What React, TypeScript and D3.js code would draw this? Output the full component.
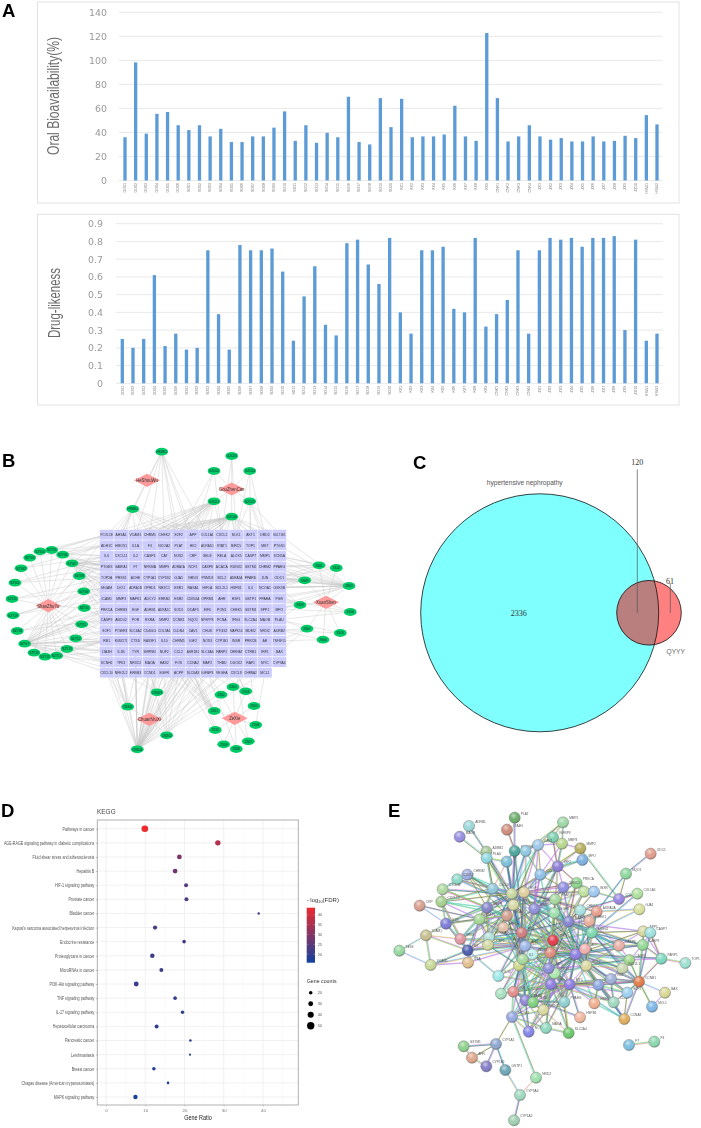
import React, { useEffect, useRef } from 'react';
import * as d3 from 'd3';

// Panel A
const compounds = [
  'GD01', 'GD02', 'GD03', 'GD04', 'GD05', 'GD06',
  'SD01', 'SD02', 'SD03', 'SD04', 'SD05', 'SD06', 'SD07', 'SD08', 'SD09', 'SD10',
  'SD11', 'SD12', 'SD13', 'SD14', 'SD15', 'SD16', 'SD17', 'SD18', 'SD19', 'SD20',
  'KX1', 'KX2', 'KX3', 'KX4', 'KX5', 'KX6', 'KX7', 'KX8', 'KX9',
  'CNK1', 'CNK2', 'CNK3', 'CNK4',
  'ZX1', 'ZX2', 'ZX3', 'ZX4', 'ZX5', 'ZX6', 'ZX7', 'ZX8', 'ZX9', 'ZX10',
  'HSW1', 'HSW2',
];
const oralBio = [
  36, 98.3, 39, 55.5, 57, 46, 42, 46, 36.7, 43, 32, 32, 36.7, 36.7, 44, 57.5, 33, 46, 31.4, 39.7, 36, 69.7,
  32, 30, 68.6, 44.4, 68, 36, 36.7, 36.7, 38.3, 62.2, 36.7, 33, 122.8, 68.6, 32.5, 36.7, 46, 36.7, 34, 35.3,
  32.5, 32.5, 36.7, 32.5, 33, 37.2, 35.3, 54.4, 46.7,
];
const drugLike = [
  0.25, 0.2, 0.25, 0.61, 0.21, 0.28, 0.19, 0.2, 0.75, 0.39, 0.19, 0.78, 0.75, 0.75, 0.76, 0.63, 0.24, 0.49, 0.66, 0.33, 0.27, 0.79,
  0.81, 0.67, 0.56, 0.82, 0.4, 0.28, 0.75, 0.75, 0.77, 0.42, 0.4, 0.82, 0.32, 0.39, 0.47, 0.75, 0.28, 0.75, 0.82, 0.81,
  0.82, 0.77, 0.82, 0.82, 0.83, 0.3, 0.81, 0.24, 0.28,
];
const oralTicks = [0, 20, 40, 60, 80, 100, 120, 140];
const drugTicks = [0, 0.1, 0.2, 0.3, 0.4, 0.5, 0.6, 0.7, 0.8, 0.9];

// Panel B
const geneRows = [
  'PCOLCE AHSA1 VCAM1 CHRM1 CHEK2 E2F2 APP COL1A1 CXCL2 ELK1 AKT1 DRD2 SULT1E1',
  'ADH1C HMOX1 IL1A F3 NCOA2 PLAT HK2 ADRA1D STAT1 BIRC5 TOP1 MET PTGS1',
  'IL6 CXCL11 IL2 CASP3 CAT NOS2 CRP SELE RELA ALOX5 CASP7 MMP1 SCN5A',
  'PTGES GABRA1 F7 NFKBIA MMP9 ADRA1A NCF1 CASP8 ACACA RUNX2 GSTM2 CHRM2 PPARG',
  'TOP2A PRSS1 ACHE CYP1A1 CYP1B2 GJA1 NR1I3 PSMD3 BCL2 ADRA2A PPARD JUN ODC1',
  'MGAM DIO1 ADRA1B OPRD1 NR3C1 ESR1 RASA1 HIF1A BCL2L1 HSPB1 IL4 NCOA1 GSK3B',
  'ICAM1 MMP3 MAPK1 ADCY2 ERBB2 ESR2 CDKN1A OPRM1 AHR HSF1 GSTP1 PPARA PGR',
  'PRKCA CHRM3 EGF ADRB1 ADRA2C SOD1 DCAF5 EIF6 PON1 CHEK1 GSTM1 SPP1 MPO',
  'CASP9 ABCG2 POR RXRA MMP2 CCNB1 NQO1 NPEPPS PCNA IFNG SLC2A4 MAOB PLAU',
  'E2F1 PTGER3 SLC6A2 CD40LG COL3A1 CLDN4 CAV1 CHUK PTGS2 MAPK14 MDM2 NR1I2 ADRB2',
  'RB1 RUNX1T1 CTSD RASSF1 IL10 CHRM5 IGF2 NOS3 CYP1B1 INSR PRKCB AR TNFSF15',
  'LTA4H IL1B TYR SERPINE1 NUF2 CCL2 AKR1B1 SLC6A4 PARP1 CHRNA7 CTRB1 IRF1 BAX',
  'KCNH2 TP63 NR3C2 MAOA HAS2 FOS CCNA2 MAP2 THBD DUOX2 RAF1 MYC CYP3A4',
  'CXCL10 NFE2L2 ERBB3 CCND1 EGFR ACPP SLC6A3 IGFBP3 VEGFA CXCL8 CHRNA2 MCL1',
].map(r => r.split(' '));

const herbs: [string, number, number][] = [
  ['HeShouWu', 147, 480.3], ['GouZhenCan', 231.7, 489], ['ShanZhuYu', 48.3, 605.7],
  ['XuanShen', 326, 602.3], ['ChuanNiuXi', 149.3, 719.3], ['ZeXie', 234.7, 718.3],
];
const herbMembers: Record<string, string> = {
  HeShouWu: 'HSW01 HSW02',
  GouZhenCan: 'GZC01 GZC02 GZC03 GZC04 GZC05 GZC06',
  ShanZhuYu: 'SZY01 SZY02 SZY03 SZY04 SZY05 SZY06 SZY07 SZY08 SZY09 SZY10 SZY11 SZY12 SZY13 SZY14 SZY15 SZY16 SZY17 SZY18 SZY19 SZY20',
  XuanShen: 'XS01 XS02 XS03 XS04 XS05 XS06 XS07 XS08 XS09',
  ChuanNiuXi: 'CNX01 CNX02 CNX03 CNX04',
  ZeXie: 'ZX01 ZX02 ZX03 ZX04 ZX05 ZX06 ZX07 ZX08 ZX09 ZX10',
};
const compoundNodes: [string, number, number][] = [
  ['HSW01', 161.7, 451.7], ['HSW02', 132.7, 509],
  ['GZC01', 214, 501.3], ['GZC02', 214, 471], ['GZC03', 231.7, 456], ['GZC04', 249.7, 471], ['GZC05', 249.7, 501.3], ['GZC06', 231.7, 516.7],
  ['SZY01', 15, 582.7], ['SZY02', 21, 568.3], ['SZY03', 29.7, 557.7], ['SZY04', 40, 551.3], ['SZY05', 51.7, 550], ['SZY06', 62.7, 554.7],
  ['SZY07', 72, 563.3], ['SZY08', 79.3, 576], ['SZY09', 83.7, 591.3], ['SZY10', 84.3, 608], ['SZY11', 81.7, 624.3], ['SZY12', 75.7, 638.3],
  ['SZY13', 67, 649], ['SZY14', 56.7, 655.7], ['SZY15', 45, 656.7], ['SZY16', 34, 652.7], ['SZY17', 24.7, 643.7], ['SZY18', 17.3, 631],
  ['SZY19', 13, 615.3], ['SZY20', 12, 599],
  ['XS01', 319, 565.3], ['XS02', 336.3, 568], ['XS03', 349, 586], ['XS04', 350.3, 612], ['XS05', 340.3, 633], ['XS06', 323, 639.7],
  ['XS07', 307, 628.7], ['XS08', 300, 605], ['XS09', 304.7, 580.3],
  ['CNX01', 127.7, 706.7], ['CNX02', 166.7, 735.3], ['CNX03', 157, 692.3], ['CNX04', 137.3, 749.3],
  ['ZX01', 214.3, 711], ['ZX02', 221, 694.7], ['ZX03', 233, 687], ['ZX04', 245.7, 691.3], ['ZX05', 254, 706], ['ZX06', 255.7, 725],
  ['ZX07', 248.3, 741.3], ['ZX08', 236.3, 749], ['ZX09', 223.7, 744.3], ['ZX10', 215.3, 730],
];
const compoundTargets: Record<string, string> = {
  HSW01: 'APP E2F2 CHEK2 CHRM1 VCAM1 AHSA1 COL1A1 HK2 NOS2',
  HSW02: 'PCOLCE AHSA1 VCAM1 CHRM1 CHEK2 E2F2 APP ADH1C IL6 NCOA2 COL1A1 HMOX1',
  GZC01: 'PCOLCE AHSA1 VCAM1 CHRM1 CHEK2 E2F2 APP COL1A1 CXCL2 ADH1C IL6 PTGES NCOA2 PLAT HK2 CXCL11 IL2 CASP3 CAT',
  GZC02: 'APP CXCL2 E2F2',
  GZC03: 'ELK1 CXCL2',
  GZC04: 'AKT1 ELK1 DRD2',
  GZC05: 'AKT1 DRD2 SULT1E1 ELK1 MET',
  GZC06: 'PCOLCE AHSA1 VCAM1 CHRM1 CHEK2 E2F2 APP COL1A1 CXCL2 ELK1 AKT1 DRD2 SULT1E1 ADH1C HMOX1 IL1A F3 NCOA2 PLAT HK2 ADRA1D STAT1 BIRC5 TOP1 MET PTGS1 CAT NOS2 CRP',
  SZY01: 'PTGES IL6 TOP2A', SZY02: 'IL6 ADH1C', SZY03: 'ADH1C PCOLCE', SZY04: 'PCOLCE IL6 PTGES',
  SZY05: 'PCOLCE ADH1C', SZY06: 'PCOLCE ADH1C IL6 PTGES',
  SZY07: 'PCOLCE IL6 PTGES TOP2A MGAM ICAM1 PRKCA CASP9 E2F1 NOS2 CAT MMP9 ESR1 ADRA1A NR3C1 CHRM3 ADRB1 SOD1 EGF F7 ACHE',
  SZY08: 'TOP2A MGAM PTGES ICAM1 IL6',
  SZY09: 'MGAM ICAM1 TOP2A PRKCA',
  SZY10: 'ICAM1 PRKCA CASP9 MGAM',
  SZY11: 'CASP9 E2F1 PRKCA RB1',
  SZY12: 'E2F1 RB1 CASP9 LTA4H',
  SZY13: 'LTA4H RB1 KCNH2',
  SZY14: 'KCNH2 LTA4H RB1', SZY15: 'E2F1 RB1', SZY16: 'RB1 CASP9', 
  SZY17: 'PCOLCE IL6 PTGES TOP2A MGAM ICAM1 PRKCA CASP9 E2F1 RB1 LTA4H KCNH2 CXCL10 ESR1 PTGS2 CASP3 BCL2 RELA MAPK1 TP63 NFE2L2 IL1B RUNX1T1 CTSD',
  SZY18: 'CASP9 PRKCA', SZY19: 'ICAM1 MGAM', SZY20: 'MGAM TOP2A',
  XS01: 'PPARG SCN5A ODC1 GSK3B CHRM2',
  XS02: 'PPARG ODC1 SCN5A',
  XS03: 'SCN5A PPARG ODC1 GSK3B PGR MPO PTGS1 SULT1E1 GSTM2 JUN NCOA1 PPARA SPP1 CHRM2 MMP1 PPARD IL4 RUNX2 HSPB1 ADRA2A',
  XS04: 'PGR MPO PLAU', XS05: 'ADRB2 PLAU', XS06: 'TNFSF15 ADRB2', XS07: 'PLAU ADRB2 TNFSF15 BAX',
  XS08: 'GSK3B PGR MPO PPARA SPP1 NCOA1 PLAU',
  XS09: 'ODC1 GSK3B PPARG JUN PPARD NCOA1',
  CNX01: 'CXCL10 NFE2L2 KCNH2 ERBB3 TP63 LTA4H CCND1',
  CNX02: 'EGFR ACPP CCND1 SLC6A3 IGFBP3 VEGFA',
  CNX03: 'ERBB3 CCND1 EGFR ACPP NFE2L2',
  CNX04: 'CXCL10 NFE2L2 ERBB3 CCND1 EGFR ACPP SLC6A3 IGFBP3 VEGFA CXCL8 CHRNA2 MCL1 KCNH2 TP63 NR3C2 MAOA HAS2 FOS CCNA2 MAP2 THBD DUOX2 RB1 CTSD IL10 IGF2 NOS3 CYP1B1 COL3A1 CHUK PTGS2 ESR1 BCL2 MMP9 AKT1 TYR NUF2 AKR1B1 CCL2 SLC6A4',
  ZX01: 'EGFR ACPP SLC6A3 FOS CCNA2 HAS2 CCL2 IL10 NUF2',
  ZX02: 'SLC6A3 IGFBP3',
  ZX03: 'IGFBP3 VEGFA',
  ZX04: 'VEGFA CXCL8',
  ZX05: 'CXCL8 CHRNA2',
  ZX06: 'MCL1', ZX07: 'CXCL8', ZX08: 'IGFBP3', ZX09: 'SLC6A3', ZX10: 'ACPP SLC6A3',
};

// Panel C
const vennAreas = { only: 2336, shared: 120, drug: 61 };

// Panel D
const pathways = [
  'Pathways in cancer', 'AGE-RAGE signaling pathway in diabetic complications', 'Fluid shear stress and atherosclerosis',
  'Hepatitis B', 'HIF-1 signaling pathway', 'Prostate cancer', 'Bladder cancer',
  "Kaposi's sarcoma associated herpesvirus infection", 'Endocrine resistance', 'Proteoglycans in cancer', 'MicroRNAs in cancer',
  'PI3K-Akt signaling pathway', 'TNF signaling pathway', 'IL-17 signaling pathway', 'Hepatocellular carcinoma', 'Pancreatic cancer',
  'Leishmaniasis', 'Breast cancer', 'Chagas disease (American trypanosomiasis)', 'MAPK signaling pathway',
];
const geneRatio = [9.9, 28.5, 18.7, 17.6, 20.4, 20.5, 38.9, 12.5, 19.9, 11.8, 14.1, 7.7, 17.6, 19.5, 12.9, 21.5, 21.4, 12.2, 15.8, 7.5];
const logFdr = [43.7, 36, 29, 27.5, 24, 23.5, 22.5, 22.5, 22, 21.5, 21, 20.5, 20, 19.5, 19, 18.5, 18, 17.5, 17, 16.5];
const geneCounts = [44, 34, 29, 29, 23, 23, 11, 25, 20, 27, 23, 30, 20, 19, 23, 12, 8, 19, 12, 26];
const fdrTicks = [20, 25, 30, 35, 40];
const countTicks = [20, 30, 40, 50];

// Panel E, node layout in string-db picture units
const stringNodes: [string, number, number][] = [
  ['ADRB1', 267, 78], ['MAOB', 239, 110], ['PLAT', 404, 53], ['LTA4H', 381, 89], ['MMP1', 549, 67], ['IGFBP3', 519, 112],
  ['MMP3', 546, 131], ['MMP2', 601, 145], ['MPO', 607, 180], ['ADRB2', 319, 155], ['PLAU', 320, 174], ['SERPINE1', 404, 153],
  ['THBD', 437, 153], ['CAV1', 474, 135], ['F3', 380, 185], ['IGF2', 533, 199], ['CCL2', 481, 224], ['PRKCA', 590, 249],
  ['MET', 612, 275], ['NR3C1', 550, 262], ['NQO1', 738, 221], ['ODC1', 812, 161], ['COL3A1', 717, 297], ['COL1A1', 772, 281],
  ['GJA1', 778, 328], ['CHRM2', 262, 224], ['CXCL2', 232, 238], ['CXCL11', 188, 268], ['CXCL10', 184, 305], ['CRP', 119, 317],
  ['IL1B', 198, 371], ['ICAM1', 138, 406], ['IFNG', 241, 417], ['IL6', 263, 451], ['IL1A', 264, 488], ['SELE', 58, 452],
  ['VCAM1', 152, 495], ['CXCL8', 338, 266], ['AKT1', 395, 281], ['EGF', 432, 277], ['MMP9', 321, 323], ['TP63', 400, 315],
  ['ESR1', 463, 327], ['PPARG', 525, 298], ['EGFR', 523, 339], ['STAT1', 298, 358], ['RELA', 381, 347], ['HIF1A', 370, 383],
  ['NFKBIA', 327, 412], ['DCAF5', 324, 435], ['FOS', 425, 398], ['MAPK1', 566, 365], ['TP53', 519, 421], ['CHEK2', 601, 331],
  ['ADRA2A', 650, 335], ['CHEK1', 628, 364], ['ERBB2', 635, 398], ['CASP8', 717, 437], ['SPP1', 790, 394], ['CASP7', 811, 398],
  ['CASP9', 788, 435], ['CASP3', 748, 480], ['BCL2L1', 727, 505], ['PARP1', 844, 476], ['TOP1', 916, 489], ['CCNB1', 777, 545],
  ['BAX', 855, 578], ['MCL1', 816, 620], ['CCNA2', 733, 657], ['CDK4', 701, 607], ['E2F1', 742, 578], ['CCND1', 655, 555],
  ['RB1', 693, 537], ['HSF1', 643, 610], ['HSPB1', 600, 652], ['MYC', 569, 553], ['JUN', 512, 553], ['PTGS2', 524, 520],
  ['CAT', 506, 505], ['BCL2', 619, 497], ['VEGFA', 587, 463], ['APP', 615, 447], ['MMP2', 511, 458], ['NOS3', 457, 463],
  ['AHR', 435, 438], ['IL4', 417, 496], ['IL2', 428, 478], ['IL10', 355, 528], ['CCL2', 363, 581], ['INS', 400, 575],
  ['PPARA', 436, 601], ['NOS2', 459, 607], ['PON1', 490, 630], ['PPARG', 553, 606], ['NCOA1', 396, 651], ['NOS2', 446, 695],
  ['MAOA', 498, 684], ['SLC2A4', 566, 699], ['CYP1A1', 348, 732], ['GSTM1', 251, 739], ['AHR', 276, 773], ['CYP1B1', 319, 799],
  ['GSTP1', 376, 810], ['NR1I2', 468, 833], ['CYP3A4', 420, 885], ['CYP1A2', 402, 961], ['F7', 747, 735], ['F3', 823, 725],
  ['INSR', 642, 275],
];
const stringColors = [
  '#a0d8d8', '#9a90e0', '#70b070', '#d09080', '#a0d8a8', '#80d0b0', '#b8d890', '#b8b060', '#80b0e0', '#a8c898', '#90d8e0', '#50a8a0',
  '#90c8e0', '#a0c8e8', '#80c0d8', '#9080d8', '#90c0e8', '#90d890', '#c0e0a0', '#9090e0', '#90d8a0', '#e0a090', '#9a88e0', '#b0e0a0',
  '#d8e0a0', '#a0b0e0', '#90d8c8', '#b0d8a0', '#a8d090', '#d8a090', '#8080d8', '#c8c090', '#e098a0', '#5060b0', '#e0c090', '#98d8a0',
  '#c8d898', '#90c8d8', '#c8d8a0', '#e0d0a0', '#8888c8', '#d8d8a8', '#9090d8', '#a8d8a0', '#a0e0b0', '#a8d898', '#d0a090', '#e0c0a8',
  '#b0e0d8', '#d0d8a0', '#d08080', '#8888d0', '#e04050', '#a8e0e0', '#e8a090', '#e8b0a0', '#80d8b0', '#e8b0a8', '#d8d8a0', '#a0e0e0',
  '#98d898', '#a0d890', '#c8d8b0', '#80d8c0', '#a0e0d0', '#e08050', '#d8d898', '#80b8e8', '#e0b060', '#a0d8c0', '#a0d0f0', '#90a8e0',
  '#a0b0d8', '#f0b090', '#f0b8a0', '#9080e0', '#9080e0', '#b0e8b0', '#9090d8', '#d8d8a0', '#9080e0', '#f0b0b0', '#e09080', '#c0f0f0',
  '#a0b8e8', '#d0d890', '#a8d8a0', '#a0e8e8', '#a8e0c0', '#e09090', '#9088d8', '#80d080', '#d8d8a0', '#90d0d0', '#98a8e0', '#8888e8',
  '#90d8c0', '#70c870', '#90a8d0', '#90d090', '#e0a890', '#8880c8', '#70a8b8', '#a0e0b0', '#a0d8c0', '#a0d0b0', '#80c0e0', '#90d8b0',
  '#a0c8f0',
];
// 1-based node ids, [node, neighbours]
const stringLinks: [number, number[]][] = [
  [1, [10]], [2, [11]], [3, [12]], [4, [12]], [5, [6, 7, 13, 14]], [6, [7, 14]], [7, [8, 14, 16, 17]], [8, [9, 16, 23]],
  [21, [22, 23, 55]], [23, [24, 109]], [24, [54, 57]], [25, [55, 57]], [30, [46, 31]], [32, [36, 37, 34, 31, 33]], [36, [37]],
  [37, [34, 35]], [28, [29, 27]], [29, [31, 33, 34]], [31, [33, 34]], [99, [100, 101, 102, 103, 95]], [101, [102, 100]],
  [103, [105]], [104, [105, 95]], [105, [106]], [107, [108]], [65, [64]], [64, [59, 60, 61, 62, 66]], [66, [67, 68, 62, 63, 61, 59, 60, 70, 71]],
  [67, [68]], [69, [70, 66, 71, 74]], [75, [76, 90]], [98, [97, 94, 93, 77]],
  [53, [39, 40, 42, 43, 44, 45, 47, 48, 50, 51, 52, 54, 55, 56, 57, 58, 62, 63, 66, 72, 73, 76, 77, 78, 79, 80, 81, 82, 83, 84, 85, 86, 87, 89, 90, 91, 92, 93, 94, 95, 97, 98, 33, 34, 41, 46, 49, 16, 17, 20, 18, 19, 38]],
  [81, [58, 59, 61, 62, 63, 64, 66, 69, 70, 71, 72, 73, 74, 76, 77, 78, 79, 80, 82, 83, 84, 85, 86, 87, 90, 91, 92, 93, 94, 95, 96, 57, 56, 55, 54, 52, 45, 44, 43, 42, 20]],
  [85, [33, 34, 35, 37, 39, 40, 41, 42, 43, 46, 47, 48, 49, 50, 51, 52, 83, 84, 86, 87, 88, 89, 90, 91, 95, 76, 77, 79, 17, 16, 12, 13, 15, 38]],
  [42, [10, 11, 12, 13, 14, 15, 17, 26, 27, 38, 39, 40, 41, 43, 44, 46, 47, 48, 49, 50, 51, 33, 34]],
  [76, [66, 69, 70, 71, 72, 73, 74, 77, 78, 79, 80, 83, 86, 87, 90, 91, 92, 93, 94, 95, 96, 97]],
  [77, [78, 79, 83, 86, 87, 88, 89, 90, 91, 92, 93, 94, 95, 96, 97, 72, 73, 70]],
  [39, [10, 11, 12, 13, 14, 15, 16, 17, 26, 27, 38, 40, 41, 43, 44, 45, 46, 47, 48, 49, 31, 28, 29]],
  [40, [14, 16, 17, 18, 19, 20, 43, 44, 45, 52, 54, 55, 57, 38, 41, 47]],
  [47, [26, 28, 29, 31, 33, 34, 41, 46, 48, 49, 50, 51]],
  [43, [14, 16, 17, 18, 19, 20, 44, 45, 52, 51, 48, 57, 58, 82]],
  [52, [18, 19, 20, 44, 45, 54, 55, 56, 57, 58, 59, 61, 80, 82, 109]],
  [17, [8, 9, 13, 14, 16, 20]], [16, [6, 9, 14, 20, 18]], [38, [10, 11, 15, 26, 27, 29, 41, 46]],
  [41, [26, 28, 29, 31, 33, 34, 46, 49, 50]], [46, [29, 31, 33, 34, 35, 49, 50]], [34, [33, 35, 49, 50, 88]],
  [83, [84, 82]], [84, [86]], [86, [87, 88, 89, 90, 39, 40, 42, 43, 47, 48, 50, 51, 78, 79, 91, 92]], [87, [90, 91, 92, 39, 42, 47, 48, 51]], [90, [95, 91, 89, 92, 93, 96]],
  [91, [95, 96, 92, 93, 97, 94]], [95, [96, 97, 93]], [72, [70, 71, 73, 74, 66, 69, 80]], [73, [66, 70, 71, 80, 63, 62]],
  [59, [60, 61]], [60, [61]], [61, [62]], [62, [63, 64]], [58, [56, 57, 59, 61, 62]], [12, [13, 15]], [13, [14]], [11, [15]], [109, [19, 18]],
  [79, [44, 45, 51, 52, 78, 80, 83, 84, 91, 92, 93, 94]], [80, [44, 45, 52, 54, 55, 56, 57, 58, 62, 63, 70, 71, 78, 83, 90, 94]],
  [83, [39, 40, 42, 43, 44, 45, 47, 51, 52, 78, 86, 87, 90, 91]], [57, [54, 55, 56, 59, 61, 62, 63, 66, 82]], [51, [40, 43, 44, 45, 48, 49, 50, 52, 84, 88]],
];
const linkColors = ['#2fd0e0', '#e060e0', '#c6d83c', '#3a3a3a', '#7d7de0', '#46c46a'];

const SANS = 'Liberation Sans, Arial, sans-serif';
const SERIF = '"Liberation Serif", serif';
type G = d3.Selection<SVGGElement, unknown, null, undefined>;

// the reference uses condensed type, scale each text to a share of its natural width around its anchor
function squeeze(sel: d3.Selection<any, any, any, any>, factor: number, maxWidth = Infinity) {
  sel.each(function (this: SVGTextElement) {
    const w = this.getComputedTextLength();
    const k = Math.min(factor, maxWidth / w);
    const ax = Number(this.getAttribute('x') || 0);
    this.setAttribute('transform', `translate(${ax},0) scale(${k},1) translate(${-ax},0)`);
  });
}

function drawBars(g: G, values: number[], ticks: number[], domainMax: number, box: number[], plot: number[], title: string, titleBox: number[], tickPad: number) {
  const [boxTop, boxBottom] = box;
  const [left, right, first, last, top, bottom] = plot;
  g.append('rect').attr('x', 37.5).attr('y', boxTop).attr('width', 641.5).attr('height', boxBottom - boxTop)
    .attr('fill', 'white').attr('stroke', '#e2e2e2').attr('stroke-width', 1);

  const step = (last - first) / (compounds.length - 1);
  const x = d3.scaleBand().domain(compounds).range([first - step / 2, last + step / 2]).paddingInner(0.69).paddingOuter(0.345);
  const y = d3.scaleLinear().domain([0, domainMax]).range([bottom, top]);

  ticks.forEach(t => {
    g.append('line').attr('x1', left).attr('x2', right).attr('y1', y(t)).attr('y2', y(t))
      .attr('stroke', '#e6e6e6').attr('stroke-width', 0.9);
  });

  g.selectAll('.bar').data(values).enter().append('rect')
    .attr('x', (_, i) => x(compounds[i]) || 0)
    .attr('width', x.bandwidth())
    .attr('y', d => y(d))
    .attr('height', d => bottom - y(d))
    .attr('fill', '#5b9bd5');

  const axis = g.append('g').attr('transform', `translate(${left},0)`)
    .call(d3.axisLeft(y).tickValues(ticks).tickSize(0).tickPadding(tickPad).tickFormat(d => String(d)));
  axis.select('.domain').remove();
  axis.selectAll('text').style('font-family', 'DejaVu Sans').style('font-size', '9.4px').style('fill', '#999');

  g.selectAll('.lab').data(compounds).enter().append('text')
    .attr('transform', d => `translate(${(x(d) || 0) + x.bandwidth() / 2 + 1.2},${bottom + 2.5}) rotate(-90)`)
    .attr('text-anchor', 'end')
    .style('font-family', SANS).style('font-size', '3.6px').style('fill', '#777')
    .text(d => d);

  g.append('text')
    .attr('transform', `translate(${titleBox[0]},${titleBox[1]}) rotate(-90)`)
    .attr('text-anchor', 'middle')
    .attr('textLength', titleBox[2]).attr('lengthAdjust', 'spacingAndGlyphs')
    .style('font-family', SANS).style('font-size', '16px').style('fill', '#6b6b6b')
    .text(title);
}

function drawNetwork(g: G) {
  const bx = d3.scaleIdentity();
  const col = d3.scalePoint<number>().domain(d3.range(13)).range([106.7, 279.3]);
  const row = d3.scalePoint<number>().domain(d3.range(14)).range([534.7, 672.7]);
  const genePos = new Map<string, [number, number]>();
  geneRows.forEach((r, i) => r.forEach((name, j) => genePos.set(name, [col(j) as number, row(i) as number])));
  const nodePos = new Map(compoundNodes.map(d => [d[0], [d[1], d[2]] as [number, number]]));

  const links: [number, number, number, number][] = [];
  Object.entries(compoundTargets).forEach(([c, list]) => {
    const a = nodePos.get(c)!;
    list.split(' ').forEach(t => {
      const b = genePos.get(t);
      if (b) links.push([a[0], a[1], b[0], b[1]]);
    });
  });
  herbs.forEach(h => {
    herbMembers[h[0]].split(' ').forEach(c => {
      const a = nodePos.get(c)!;
      links.push([h[1], h[2], a[0], a[1]]);
    });
  });

  g.selectAll('.edge').data(links).enter().append('line')
    .attr('x1', d => bx(d[0])).attr('y1', d => d[1]).attr('x2', d => bx(d[2])).attr('y2', d => d[3])
    .attr('stroke', '#c2c2c2').attr('stroke-width', 0.4);

  geneRows.forEach((r, i) => {
    const cells = g.selectAll(`.cell${i}`).data(r).enter().append('g')
      .attr('transform', (_, j) => `translate(${col(j)},${row(i)})`);
    cells.append('rect').attr('x', -6.9).attr('y', -4.9).attr('width', 13.8).attr('height', 9.8).attr('fill', '#ccccff');
    const labels = cells.append('text').attr('text-anchor', 'middle').attr('y', 1.5)
      .style('font-family', SANS).style('font-size', '4.3px').style('fill', '#333')
      .text(d => d);
    squeeze(labels, 0.8, 12.6);
  });

  const node = g.selectAll('.cnode').data(compoundNodes).enter().append('g')
    .attr('transform', d => `translate(${d[1]},${d[2]})`);
  node.append('ellipse').attr('rx', 6.4).attr('ry', 3.9).attr('fill', '#00cc66');
  const nodeText = node.append('text').attr('text-anchor', 'middle').attr('y', 1.3)
    .style('font-family', SANS).style('font-size', '3.8px').style('fill', '#123')
    .text(d => d[0]);
  squeeze(nodeText, 0.8);

  const herb = g.selectAll('.herb').data(herbs).enter().append('g')
    .attr('transform', d => `translate(${d[1]},${d[2]})`);
  herb.append('path').attr('d', 'M-13,0L0,-6.6L13,0L0,6.6Z').attr('fill', '#ff9a9a');
  const herbText = herb.append('text').attr('text-anchor', 'middle').attr('y', 1.8)
    .style('font-family', SANS).style('font-size', '5.2px').style('fill', '#333')
    .text(d => d[0]);
  squeeze(herbText, 0.82);
}

function drawVenn(g: G) {
  // areas are drawn to the picture's radii, they are not proportional
  const big = { cx: 539.7, cy: 612.8, r: 119 };
  const small = { cx: 649, cy: 612.8, r: 32.3 };
  g.append('clipPath').attr('id', 'vennClip').append('circle').attr('cx', big.cx).attr('cy', big.cy).attr('r', big.r);
  g.append('circle').attr('cx', big.cx).attr('cy', big.cy).attr('r', big.r).attr('fill', '#80ffff');
  g.append('circle').attr('cx', small.cx).attr('cy', small.cy).attr('r', small.r).attr('fill', '#ff8080');
  g.append('circle').attr('cx', small.cx).attr('cy', small.cy).attr('r', small.r).attr('fill', '#b97f7f').attr('clip-path', 'url(#vennClip)');
  [big, small].forEach(c => {
    g.append('circle').attr('cx', c.cx).attr('cy', c.cy).attr('r', c.r).attr('fill', 'none').attr('stroke', '#111').attr('stroke-width', 0.8);
  });
  g.append('line').attr('x1', 637.3).attr('x2', 637.3).attr('y1', 469.3).attr('y2', 613).attr('stroke', '#555').attr('stroke-width', 0.7);
  g.append('line').attr('x1', 670.3).attr('x2', 670.3).attr('y1', 583.3).attr('y2', 613).attr('stroke', '#555').attr('stroke-width', 0.7);

  const serif = (x: number, y: number, t: number) => g.append('text').attr('x', x).attr('y', y).attr('text-anchor', 'middle')
    .style('font-family', SERIF).style('font-size', '8px').style('fill', '#333').text(String(t));
  serif(637.3, 464.7, vennAreas.shared);
  serif(670, 584.3, vennAreas.drug);
  serif(518.7, 615.7, vennAreas.only);

  g.append('text').attr('x', 524.7).attr('y', 485).attr('text-anchor', 'middle')
    .style('font-family', SANS).style('font-size', '6.6px').style('fill', '#555').text('hypertensive nephropathy');
  g.append('text').attr('x', 675.7).attr('y', 654).attr('text-anchor', 'middle')
    .style('font-family', SANS).style('font-size', '6.6px').style('fill', '#666').text('QYYY');
}

function drawDots(g: G, defs: d3.Selection<SVGDefsElement, unknown, null, undefined>) {
  const left = 97.3, right = 298.3, top = 820, bottom = 1105;
  const x = d3.scaleLinear().domain([0, 40]).range([106, 263]);
  const y = d3.scalePoint<string>().domain(pathways).range([828.7, 1097]);
  const color = d3.scaleLinear<string>().domain([15.6, 43.7]).range(['#12409f', '#ee2a2e']);
  const size = d3.scaleLinear().domain([20, 50]).range([1.8, 3.7]);

  [5, 15, 25, 35, 45].forEach(t => {
    g.append('line').attr('x1', x(t)).attr('x2', x(t)).attr('y1', top).attr('y2', bottom).attr('stroke', '#f2f2f2').attr('stroke-width', 0.4);
  });
  [0, 10, 20, 30, 40].forEach(t => {
    g.append('line').attr('x1', x(t)).attr('x2', x(t)).attr('y1', top).attr('y2', bottom).attr('stroke', '#e8e8e8').attr('stroke-width', 0.6);
  });
  pathways.forEach(p => {
    g.append('line').attr('x1', left).attr('x2', right).attr('y1', y(p) as number).attr('y2', y(p) as number).attr('stroke', '#e8e8e8').attr('stroke-width', 0.6);
  });

  g.selectAll('.dot').data(pathways).enter().append('circle')
    .attr('cx', (_, i) => x(geneRatio[i]))
    .attr('cy', d => y(d) as number)
    .attr('r', (_, i) => size(geneCounts[i]))
    .attr('fill', (_, i) => color(logFdr[i]));

  g.append('rect').attr('x', left).attr('y', top).attr('width', right - left).attr('height', bottom - top)
    .attr('fill', 'none').attr('stroke', '#a8a8a8').attr('stroke-width', 0.9);

  const xAxis = g.append('g').attr('transform', `translate(0,${bottom})`)
    .call(d3.axisBottom(x).tickValues([0, 10, 20, 30, 40]).tickSize(1.5).tickPadding(2));
  xAxis.select('.domain').remove();
  xAxis.selectAll('line').attr('stroke', '#888').attr('stroke-width', 0.4);
  xAxis.selectAll('text').style('font-family', SANS).style('font-size', '4.4px').style('fill', '#777');

  const yAxis = g.append('g').attr('transform', `translate(${left},0)`)
    .call(d3.axisLeft(y).tickSize(1.5).tickPadding(1.5));
  yAxis.select('.domain').remove();
  yAxis.selectAll('line').attr('stroke', '#666').attr('stroke-width', 0.4);
  const yLabels = yAxis.selectAll('text').style('font-family', SANS).style('font-size', '4.6px').style('fill', '#555');
  squeeze(yLabels, 0.8, 92);

  const kegg = g.append('text').attr('x', 97).attr('y', 814).style('font-family', SANS).style('font-size', '7.6px').style('fill', '#444').text('KEGG');
  squeeze(kegg, 0.85);
  const ratio = g.append('text').attr('x', 198).attr('y', 1120).attr('text-anchor', 'middle').style('font-family', SANS).style('font-size', '6.4px').style('fill', '#222').text('Gene Ratio');
  squeeze(ratio, 0.85);

  // colour bar
  const barTop = 907.7, barBottom = 962.7;
  const barY = d3.scaleLinear().domain([15.6, 43.7]).range([barBottom, barTop]);
  const grad = defs.append('linearGradient').attr('id', 'fdrGrad').attr('x1', 0).attr('x2', 0).attr('y1', 1).attr('y2', 0);
  [15.6, 22, 29, 36, 43.7].forEach(v => {
    grad.append('stop').attr('offset', (v - 15.6) / (43.7 - 15.6)).attr('stop-color', color(v));
  });
  g.append('rect').attr('x', 306.7).attr('y', barTop).attr('width', 8.3).attr('height', barBottom - barTop).attr('fill', 'url(#fdrGrad)');
  const title = g.append('text').attr('x', 306.7).attr('y', 901.7).style('font-family', SANS).style('font-size', '6px').style('fill', '#333');
  title.append('tspan').text('- log');
  title.append('tspan').attr('dy', 1.2).style('font-size', '3.8px').text('10');
  title.append('tspan').attr('dy', -1.2).text('(FDR)');
  fdrTicks.forEach(t => {
    g.append('text').attr('x', 317.7).attr('y', barY(t) + 1.5).style('font-family', SANS).style('font-size', '3.8px').style('fill', '#555').text(String(t));
    g.append('line').attr('x1', 306.7).attr('x2', 308.4).attr('y1', barY(t)).attr('y2', barY(t)).attr('stroke', 'white').attr('stroke-width', 0.3);
    g.append('line').attr('x1', 313.3).attr('x2', 315).attr('y1', barY(t)).attr('y2', barY(t)).attr('stroke', 'white').attr('stroke-width', 0.3);
  });

  const counts = g.append('text').attr('x', 306.7).attr('y', 982.7).style('font-family', SANS).style('font-size', '6.2px').style('fill', '#333').text('Gene counts');
  squeeze(counts, 0.85);
  const legendY = d3.scalePoint<number>().domain(countTicks).range([992.7, 1025.7]);
  countTicks.forEach(t => {
    g.append('circle').attr('cx', 310.7).attr('cy', legendY(t) as number).attr('r', size(t)).attr('fill', 'black');
    g.append('text').attr('x', 317.7).attr('y', (legendY(t) as number) + 1.5).style('font-family', SANS).style('font-size', '3.8px').style('fill', '#555').text(String(t));
  });
}

function drawString(g: G, defs: d3.Selection<SVGDefsElement, unknown, null, undefined>) {
  const x = d3.scaleLinear().domain([0, 960]).range([380, 700]);
  const y = d3.scaleLinear().domain([0, 984]).range([800, 1128]);
  const grad = defs.append('radialGradient').attr('id', 'sphere').attr('cx', 0.4).attr('cy', 0.32).attr('r', 0.72);
  grad.append('stop').attr('offset', 0).attr('stop-color', 'white').attr('stop-opacity', 0.55);
  grad.append('stop').attr('offset', 0.45).attr('stop-color', 'white').attr('stop-opacity', 0);
  grad.append('stop').attr('offset', 0.72).attr('stop-color', 'black').attr('stop-opacity', 0);
  grad.append('stop').attr('offset', 1).attr('stop-color', 'black').attr('stop-opacity', 0.3);

  const seen = new Set<string>();
  const pairs: [number, number][] = [];
  stringLinks.forEach(([a, list]) => {
    list.forEach(b => {
      const key = a < b ? `${a}-${b}` : `${b}-${a}`;
      if (!seen.has(key)) {
        seen.add(key);
        pairs.push([a - 1, b - 1]);
      }
    });
  });

  pairs.forEach(([a, b]) => {
    const x1 = x(stringNodes[a][1]), y1 = y(stringNodes[a][2]);
    const x2 = x(stringNodes[b][1]), y2 = y(stringNodes[b][2]);
    const len = Math.hypot(x2 - x1, y2 - y1) || 1;
    const nx = (y2 - y1) / len, ny = -(x2 - x1) / len;
    const strands = [(a * 5 + b) % 6, (a + b * 3 + 1) % 6, (a * 2 + b * 5 + 2) % 6];
    const strandsUnique = strands.filter((s, i) => strands.indexOf(s) === i);
    strandsUnique.forEach((s, i) => {
      const off = (i - (strandsUnique.length - 1) / 2) * 0.55;
      g.append('line')
        .attr('x1', x1 + nx * off).attr('y1', y1 + ny * off).attr('x2', x2 + nx * off).attr('y2', y2 + ny * off)
        .attr('stroke', linkColors[s]).attr('stroke-width', 0.5).attr('stroke-opacity', 0.95);
    });
  });

  const node = g.selectAll('.snode').data(stringNodes).enter().append('g')
    .attr('transform', d => `translate(${x(d[1])},${y(d[2])})`);
  node.append('circle').attr('r', 5.6).attr('fill', (_, i) => stringColors[i]);
  node.append('circle').attr('r', 5.6).attr('fill', 'url(#sphere)').attr('stroke', '#808080').attr('stroke-width', 0.45);
  node.append('text').attr('x', 6.2).attr('y', -3)
    .style('font-family', SANS).style('font-size', '3.2px').style('fill', '#555')
    .text(d => d[0]);
}

const App: React.FC = () => {
  const svgRef = useRef<SVGSVGElement>(null);

  useEffect(() => {
    if (!svgRef.current) return;
    const svg = d3.select(svgRef.current);
    svg.selectAll('*').remove();

    const defs = svg.append('defs');
    const blur = (id: string, sd: number) => {
      defs.append('filter').attr('id', id)
        .attr('filterUnits', 'userSpaceOnUse').attr('x', 0).attr('y', 0).attr('width', 701).attr('height', 1128)
        .append('feGaussianBlur').attr('stdDeviation', sd);
    };
    blur('soft5', 0.5);
    blur('soft3', 0.3);

    svg.append('rect').attr('width', 701).attr('height', 1128).attr('fill', 'white');

    const panelA = svg.append('g').attr('filter', 'url(#soft5)') as unknown as G;
    drawBars(panelA, oralBio, oralTicks, 140, [2, 203], [119, 662, 125, 657, 12.3, 180.5], 'Oral Bioavailability(%)', [59, 96, 118], 12);
    drawBars(panelA, drugLike, drugTicks, 0.9, [214.3, 405], [116, 663, 122.3, 657, 223.7, 383.3], 'Drug-likeness', [60, 303, 70], 13);

    const panelB = svg.append('g').attr('filter', 'url(#soft3)') as unknown as G;
    drawNetwork(panelB);
    const panelC = svg.append('g') as unknown as G;
    drawVenn(panelC);
    const panelD = svg.append('g').attr('filter', 'url(#soft3)') as unknown as G;
    drawDots(panelD, defs);
    const panelE = svg.append('g').attr('filter', 'url(#soft3)') as unknown as G;
    drawString(panelE, defs);

    // panel letters
    const letters: [string, number, number][] = [['A', 2, 17], ['B', 2, 467], ['C', 413, 469], ['D', 1, 817], ['E', 388, 817]];
    svg.selectAll('.letter').data(letters).enter().append('text')
      .attr('x', d => d[1]).attr('y', d => d[2])
      .style('font-family', SANS).style('font-weight', 'bold').style('font-size', '18.5px').style('fill', 'black')
      .text(d => d[0]);
  }, []);

  return (
    <svg ref={svgRef} width={701} height={1128} style={{ position: 'absolute', left: 0, top: 0, display: 'block' }}></svg>
  );
};

export default App;
